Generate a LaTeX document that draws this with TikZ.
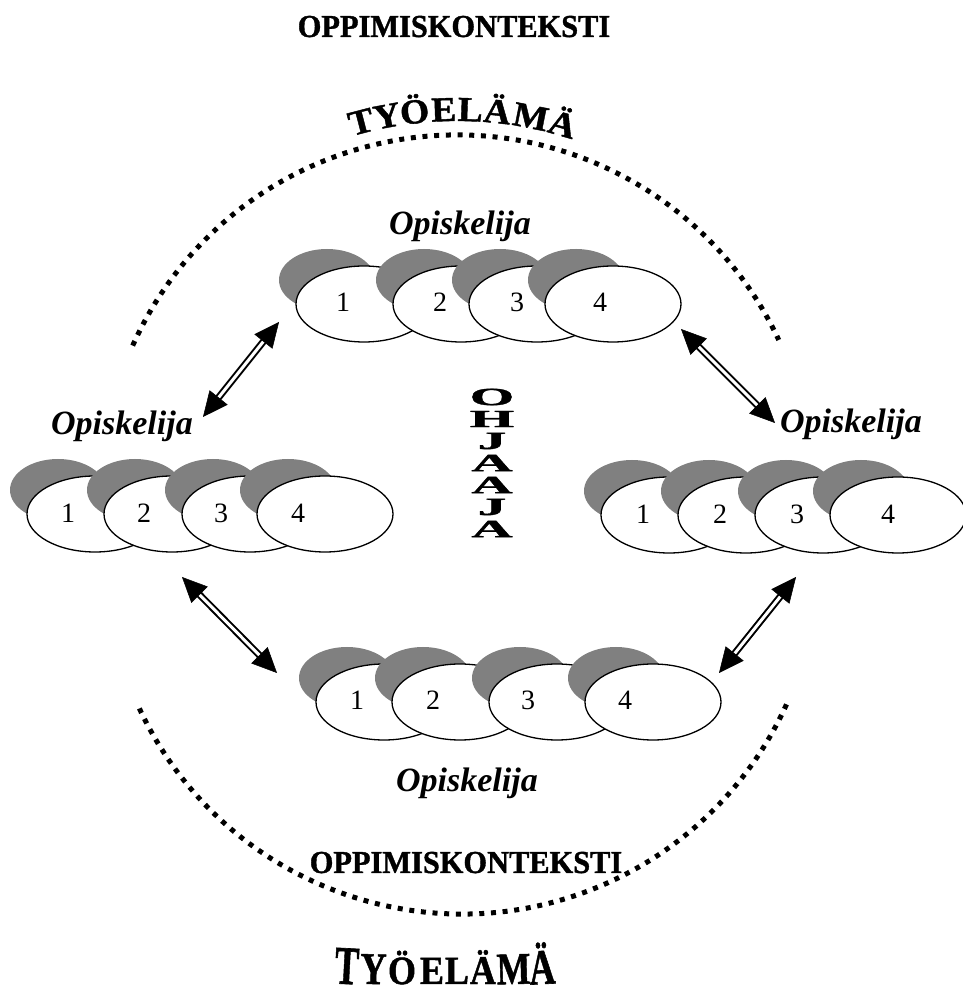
\documentclass[tikz,border=0pt]{standalone}
\usepackage{fontspec}
\setmainfont{Liberation Serif}
\newfontface\wideface[FakeStretch=1.07,FakeBold=1.2]{Liberation Serif Bold}
\newfontface\heavyface[FakeBold=1.2]{Liberation Serif Bold}
\usetikzlibrary{arrows.meta,calc,shapes.geometric}
\tikzset{
  dots/.style={line width=5pt, dash pattern=on 5pt off 6.7pt},
  whiteell/.style={draw, ellipse, fill=white, line width=1.3pt, minimum width=136pt, minimum height=76pt, inner sep=0pt},
  grayell/.style={ellipse, fill=gray, minimum width=96pt, minimum height=62pt, inner sep=0pt},
  num/.style={font=\fontsize{28}{28}\selectfont, inner sep=0pt},
  stud/.style={font=\fontsize{34}{34}\selectfont\bfseries\itshape, inner sep=0pt, anchor=base},
  titletext/.style={font=\fontsize{32}{32}\selectfont\heavyface, inner sep=0pt, anchor=base},
  bigletter/.style={font=\fontsize{35}{35}\selectfont\wideface, inner sep=0pt, anchor=base},
  botletter/.style={font=\fontsize{40}{40}\selectfont\heavyface, inner sep=0pt, anchor=base},
  vletter/.style={font=\fontsize{26}{26}\selectfont\heavyface, inner sep=0pt},
  shaft/.style={draw=black, line width=2pt, double=white, double distance=3pt, shorten <=20pt, shorten >=20pt},
  tip/.style={line width=0.5pt, -{Triangle[length=25pt,width=23pt]}}
}
\newcommand\dblarrow[2]{%
  \draw[shaft] (#1) -- (#2);
  \draw[tip] ($(#1)!25pt!(#2)$) -- (#1);
  \draw[tip] ($(#2)!25pt!(#1)$) -- (#2);
}
\begin{document}
\begin{tikzpicture}[x=1pt,y=1pt]
\useasboundingbox (0,0) rectangle (962,999);

% titles
\node[titletext] (ctxtop) at (454,962) {\scalebox{0.95}[1]{OPPIMISKONTEKSTI}};
\node[titletext] (ctxbot) at (466,126) {\scalebox{0.95}[1]{OPPIMISKONTEKSTI}};

% dotted arcs
\coordinate (ctop) at (457,509);
\coordinate (cbot) at (462,441);
\draw[dots] (ctop) ++(156:355) arc[start angle=156, end angle=25, radius=355];
\draw[dots] (cbot) ++(205:356) arc[start angle=205, end angle=336, radius=356];

% top TYÖELÄMÄ on arc
\foreach \ch/\ang [count=\k] in {T/104.6, Y/100.6, Ö/96.4, E/92.0, L/88.0, Ä/83.9, M/78.8, Ä/73.9} {
  \node[bigletter, rotate=\ang-90] (tw\k) at ($(ctop)+(\ang:369)$) {\ch};
}
% bottom TYÖELÄMÄ
\foreach \ch/\xx/\sy/\rot [count=\k] in {T/346/1.36/-3, Y/373/1.13/-1.5, Ö/402/1.0/0, E/432/1.0/0, L/457/1.0/0, Ä/483/1.02/0, M/514/1.13/1.5, Ä/543/1.25/3} {
  \node[botletter, rotate=\rot] (bw\k) at (\xx,15) {\scalebox{0.9}[\sy]{\ch}};
}

% student groups
\node[stud] (stop) at (460,764) {Opiskelija};
\foreach \cx/\nx/\i in {364/343/1, 461/440/2, 537/517/3, 613/600/4} {
  \node[grayell] (tg\i) at (\cx-37,719) {};
  \node[whiteell] (t\i) at (\cx,695) {};
  \node[num] (tn\i) at (\nx,697) {\i};
}
\node[stud] (sleft) at (122,564) {Opiskelija};
\foreach \cx/\nx/\i in {95/68/1, 172/144/2, 250/221/3, 325/298/4} {
  \node[grayell] (lg\i) at (\cx-37,509) {};
  \node[whiteell] (l\i) at (\cx,485) {};
  \node[num] (ln\i) at (\nx,486) {\i};
}
\node[stud] (sright) at (851,566) {Opiskelija};
\foreach \cx/\nx/\i in {669/643/1, 746/720/2, 823/797/3, 898/888/4} {
  \node[grayell] (rg\i) at (\cx-37,508) {};
  \node[whiteell] (r\i) at (\cx,484) {};
  \node[num] (rn\i) at (\nx,485) {\i};
}
\node[stud] (sbot) at (467,207) {Opiskelija};
\foreach \cx/\nx/\i in {384/357/1, 460/433/2, 557/528/3, 653/625/4} {
  \node[grayell] (bg\i) at (\cx-37,321) {};
  \node[whiteell] (b\i) at (\cx,297) {};
  \node[num] (bn\i) at (\nx,299) {\i};
}

% OHJAAJA
\foreach \ch/\yy [count=\k] in {O/602, H/580, J/558, A/536, A/514, J/492, A/470} {
  \node[vletter] (oh\k) at (492,\yy) {\scalebox{2.2}[0.95]{\ch}};
}

% arrows
\coordinate (A1) at (203,582); \coordinate (A2) at (279,677);
\coordinate (B1) at (681,670); \coordinate (B2) at (775,576);
\coordinate (C1) at (182,422); \coordinate (C2) at (277,326);
\coordinate (D1) at (796,422); \coordinate (D2) at (719,326);
\dblarrow{A1}{A2}
\dblarrow{B1}{B2}
\dblarrow{C1}{C2}
\dblarrow{D1}{D2}
\end{tikzpicture}
\end{document}
